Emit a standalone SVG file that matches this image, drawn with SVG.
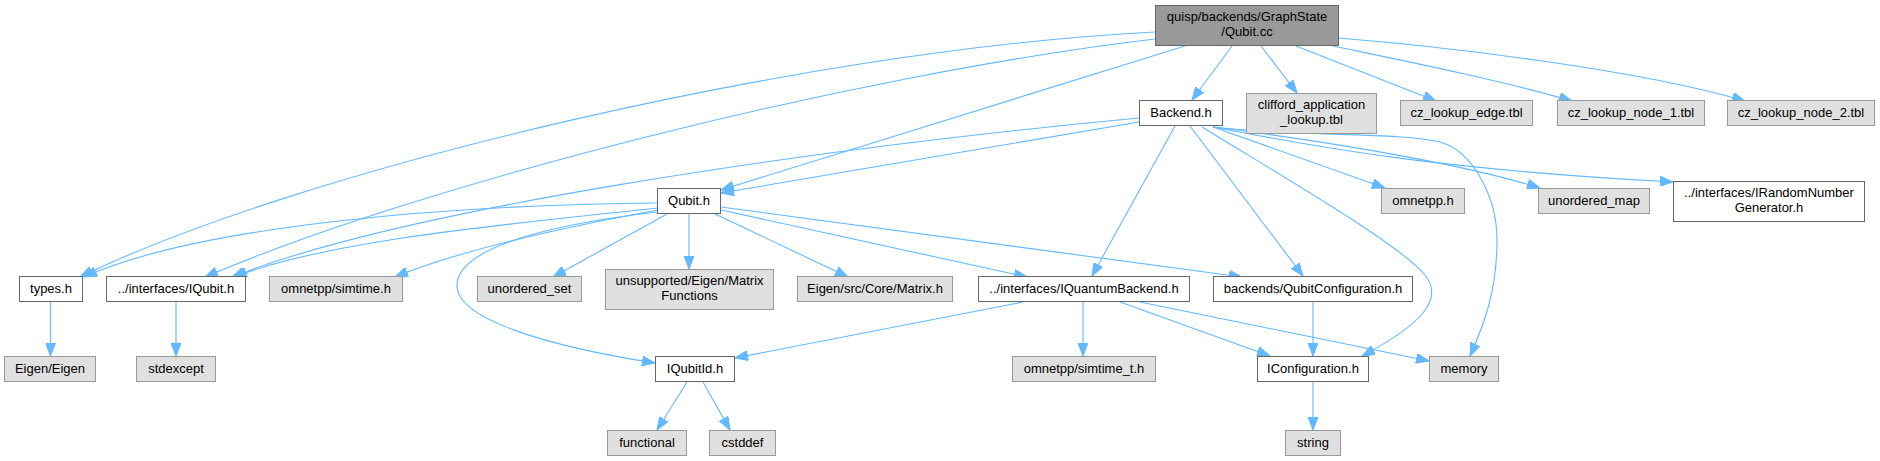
<svg xmlns="http://www.w3.org/2000/svg" width="1880" height="461" viewBox="0 0 1880 461">
<defs>
<style>
.n rect{stroke-width:1}
.dark rect{fill:#999999;stroke:#666666}
.wht rect{fill:#ffffff;stroke:#666666}
.gry rect{fill:#e0e0e0;stroke:#999999}
text{font-family:"Liberation Sans",Arial,Helvetica,sans-serif;font-size:13px;fill:#000;text-anchor:middle}
.e path{fill:none;stroke:#63b8ff;stroke-width:1.1;marker-end:url(#ah)}
</style>
<marker id="ah" viewBox="0 0 13 10" refX="13" refY="5" markerWidth="13" markerHeight="10" markerUnits="userSpaceOnUse" orient="auto">
<path d="M0,0 L13,5 L0,10 z" fill="#63b8ff" stroke="#63b8ff" stroke-width="1"/>
</marker>
</defs>
<rect width="1880" height="461" fill="#ffffff"/>
<g id="edges" class="e">
<!-- from Qubit.cc -->
<path d="M1155,32 C800,50 300,170 80,277"/>
<path d="M1155,39 C850,75 420,185 205,277"/>
<path d="M1185,46 L721,190"/>
<path d="M1232,46 L1192,100"/>
<path d="M1261,46 L1297,93"/>
<path d="M1296,46 L1436,101"/>
<path d="M1333,46 C1400,60 1500,80 1572,101"/>
<path d="M1338,38 C1450,47 1640,70 1745,101"/>
<!-- from Backend.h -->
<path d="M1139,122 L721,193"/>
<path d="M1139,118 C800,150 400,210 232,277"/>
<path d="M1175,126 L1092,276"/>
<path d="M1190,126 L1303,276"/>
<path d="M1202,127 C1300,187 1400,245 1425,275 C1445,300 1420,325 1362,356"/>
<path d="M1213,127 C1300,137 1400,132 1440,142 C1475,152 1497,200 1497,240 C1497,290 1485,322 1470,356"/>
<path d="M1213,127 L1385,188"/>
<path d="M1213,127 C1300,138 1450,160 1540,188"/>
<path d="M1213,127 C1330,150 1450,170 1673,182"/>
<!-- from Qubit.h -->
<path d="M658,203 C450,205 200,225 84,277"/>
<path d="M658,208 C500,225 330,240 234,277"/>
<path d="M658,210 C560,228 460,250 395,277"/>
<path d="M657,212 C520,228 455,255 457,287 C459,318 540,345 655,363"/>
<path d="M667,214 L553,277"/>
<path d="M689,214 L689,269"/>
<path d="M715,214 L848,277"/>
<path d="M721,210 L1027,277"/>
<path d="M721,207 L1242,277"/>
<!-- lower -->
<path d="M50.5,302 L50.5,356"/>
<path d="M176,302 L176,356"/>
<path d="M1023,302 L735,358"/>
<path d="M1083,302 L1083,356"/>
<path d="M1120,302 L1270,356"/>
<path d="M1140,302 L1429,361"/>
<path d="M1313,302 L1313,356"/>
<path d="M1313,382 L1313,430"/>
<path d="M687,382 L657,430"/>
<path d="M703,382 L730,430"/>
</g>
<g id="node_qubit_cc" class="n dark"><rect x="1155.5" y="5.5" width="183" height="40"/><text x="1247" y="21">quisp/backends/GraphState</text><text x="1247" y="36">/Qubit.cc</text></g>
<g id="node_backend" class="n wht"><rect x="1139.5" y="100.5" width="83" height="25"/><text x="1181" y="117">Backend.h</text></g>
<g id="node_clifford" class="n gry"><rect x="1246.5" y="93.5" width="130" height="40"/><text x="1311.5" y="109">clifford_application</text><text x="1311.5" y="124">_lookup.tbl</text></g>
<g id="node_cz_edge" class="n gry"><rect x="1400.5" y="100.5" width="132" height="25"/><text x="1466.5" y="117">cz_lookup_edge.tbl</text></g>
<g id="node_cz_node1" class="n gry"><rect x="1557.5" y="100.5" width="147" height="25"/><text x="1631" y="117">cz_lookup_node_1.tbl</text></g>
<g id="node_cz_node2" class="n gry"><rect x="1727.5" y="100.5" width="147" height="25"/><text x="1801" y="117">cz_lookup_node_2.tbl</text></g>
<g id="node_qubit_h" class="n wht"><rect x="657.5" y="188.5" width="63" height="25"/><text x="689" y="205">Qubit.h</text></g>
<g id="node_omnetpp" class="n gry"><rect x="1381.5" y="188.5" width="83" height="25"/><text x="1423" y="205">omnetpp.h</text></g>
<g id="node_unordered_map" class="n gry"><rect x="1538.5" y="188.5" width="111" height="25"/><text x="1594" y="205">unordered_map</text></g>
<g id="node_irng" class="n wht"><rect x="1673.5" y="181.5" width="191" height="40"/><text x="1769" y="197">../interfaces/IRandomNumber</text><text x="1769" y="212">Generator.h</text></g>
<g id="node_types" class="n wht"><rect x="19.5" y="276.5" width="63" height="25"/><text x="51" y="293">types.h</text></g>
<g id="node_iqubit" class="n wht"><rect x="106.5" y="276.5" width="139" height="25"/><text x="176" y="293">../interfaces/IQubit.h</text></g>
<g id="node_simtime" class="n gry"><rect x="269.5" y="276.5" width="133" height="25"/><text x="336" y="293">omnetpp/simtime.h</text></g>
<g id="node_unordered_set" class="n gry"><rect x="477.5" y="276.5" width="104" height="25"/><text x="529.5" y="293">unordered_set</text></g>
<g id="node_matfun" class="n gry"><rect x="605.5" y="269.5" width="168" height="40"/><text x="689.5" y="285">unsupported/Eigen/Matrix</text><text x="689.5" y="300">Functions</text></g>
<g id="node_eigen_matrix" class="n gry"><rect x="797.5" y="276.5" width="155" height="25"/><text x="875" y="293">Eigen/src/Core/Matrix.h</text></g>
<g id="node_iqb" class="n wht"><rect x="978.5" y="276.5" width="211" height="25"/><text x="1084" y="293">../interfaces/IQuantumBackend.h</text></g>
<g id="node_qconf" class="n wht"><rect x="1213.5" y="276.5" width="199" height="25"/><text x="1313" y="293">backends/QubitConfiguration.h</text></g>
<g id="node_eigen" class="n gry"><rect x="4.5" y="356.5" width="91" height="25"/><text x="50" y="373">Eigen/Eigen</text></g>
<g id="node_stdexcept" class="n gry"><rect x="136.5" y="356.5" width="79" height="25"/><text x="176" y="373">stdexcept</text></g>
<g id="node_iqubitid" class="n wht"><rect x="655.5" y="356.5" width="79" height="25"/><text x="695" y="373">IQubitId.h</text></g>
<g id="node_simtime_t" class="n gry"><rect x="1012.5" y="356.5" width="143" height="25"/><text x="1084" y="373">omnetpp/simtime_t.h</text></g>
<g id="node_iconf" class="n wht"><rect x="1257.5" y="356.5" width="111" height="25"/><text x="1313" y="373">IConfiguration.h</text></g>
<g id="node_memory" class="n gry"><rect x="1429.5" y="356.5" width="69" height="25"/><text x="1464" y="373">memory</text></g>
<g id="node_functional" class="n gry"><rect x="607.5" y="430.5" width="79" height="25"/><text x="647" y="447">functional</text></g>
<g id="node_cstddef" class="n gry"><rect x="709.5" y="430.5" width="66" height="25"/><text x="742.5" y="447">cstddef</text></g>
<g id="node_string" class="n gry"><rect x="1285.5" y="430.5" width="55" height="25"/><text x="1313" y="447">string</text></g>
</svg>
